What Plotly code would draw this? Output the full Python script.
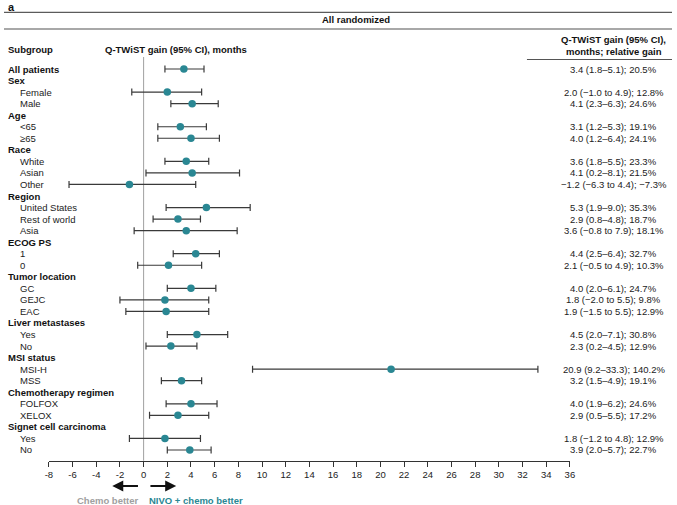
import plotly.graph_objects as go

W, H = 677, 505

# ---- data ----
rows = [
    ("All patients", "bold"), ("Sex", "head"), ("Female", "item"), ("Male", "item"),
    ("Age", "head"), ("<65", "item"), ("≥65", "item"),
    ("Race", "head"), ("White", "item"), ("Asian", "item"), ("Other", "item"),
    ("Region", "head"), ("United States", "item"), ("Rest of world", "item"), ("Asia", "item"),
    ("ECOG PS", "head"), ("1", "item"), ("0", "item"),
    ("Tumor location", "head"), ("GC", "item"), ("GEJC", "item"), ("EAC", "item"),
    ("Liver metastases", "head"), ("Yes", "item"), ("No", "item"),
    ("MSI status", "head"), ("MSI-H", "item"), ("MSS", "item"),
    ("Chemotherapy regimen", "head"), ("FOLFOX", "item"), ("XELOX", "item"),
    ("Signet cell carcinoma", "head"), ("Yes", "item"), ("No", "item"),
]
# estimates for rows that have data (None for section headers)
gain = [3.4, None, 2.0, 4.1, None, 3.1, 4.0, None, 3.6, 4.1, -1.2, None, 5.3, 2.9, 3.6,
        None, 4.4, 2.1, None, 4.0, 1.8, 1.9, None, 4.5, 2.3, None, 20.9, 3.2, None, 4.0, 2.9,
        None, 1.8, 3.9]
lo = [1.8, None, -1.0, 2.3, None, 1.2, 1.2, None, 1.8, 0.2, -6.3, None, 1.9, 0.8, -0.8,
      None, 2.5, -0.5, None, 2.0, -2.0, -1.5, None, 2.0, 0.2, None, 9.2, 1.5, None, 1.9, 0.5,
      None, -1.2, 2.0]
hi = [5.1, None, 4.9, 6.3, None, 5.3, 6.4, None, 5.5, 8.1, 4.4, None, 9.0, 4.8, 7.9,
      None, 6.4, 4.9, None, 6.1, 5.5, 5.5, None, 7.1, 4.5, None, 33.3, 4.9, None, 6.2, 5.5,
      None, 4.8, 5.7]
rel = ["20.5%", None, "12.8%", "24.6%", None, "19.1%", "24.1%", None, "23.3%", "21.5%", "−7.3%",
       None, "35.3%", "18.7%", "18.1%", None, "32.7%", "10.3%", None, "24.7%", "9.8%", "12.9%",
       None, "30.8%", "12.9%", None, "140.2%", "19.1%", None, "24.6%", "17.2%", None, "12.9%", "22.7%"]
tick_vals = list(range(-8, 37, 2))
tick_text = [str(v) for v in tick_vals]

# ---- geometry helpers (pixel -> paper) ----
def xp(px):
    return px / W

def yp(py):
    return 1 - py / H

ROW0, ROWSTEP = 69.0, 11.545
def row_of(py):
    return (py - ROW0) / ROWSTEP

FONT = "Liberation Sans, Arial, sans-serif"
FS = 9.5
TEAL = "#2a8793"
BAR = "#3a3a3a"

def fmt(v):
    s = f"{abs(v):.1f}"
    return ("−" + s) if v < 0 else s

def ci_text(g, l, h, r):
    if l < 0 or h < 0:
        return f"{fmt(g)} ({fmt(l)} to {fmt(h)}); {r}"
    return f"{fmt(g)} ({fmt(l)}–{fmt(h)}); {r}"

idx = [i for i, g in enumerate(gain) if g is not None]
xs = [gain[i] for i in idx]
plus = [hi[i] - gain[i] for i in idx]
minus = [gain[i] - lo[i] for i in idx]

fig = go.Figure()
fig.add_trace(go.Scatter(
    x=xs, y=idx, mode="markers",
    marker=dict(color=TEAL, size=7.5, line=dict(width=0)),
    error_x=dict(type="data", symmetric=False, array=plus, arrayminus=minus,
                 color=BAR, thickness=1.2, width=3.5),
    hoverinfo="skip", showlegend=False, cliponaxis=False,
))

ann = []
# row labels
for i, (lab, kind) in enumerate(rows):
    if kind == "item":
        ann.append(dict(x=xp(14), y=i, xref="paper", yref="y", text=lab, showarrow=False,
                        xanchor="left", yanchor="middle", font=dict(size=FS, color="#222")))
    else:
        ann.append(dict(x=xp(2.5), y=i, xref="paper", yref="y", text=f"<b>{lab}</b>", showarrow=False,
                        xanchor="left", yanchor="middle", font=dict(size=FS, color="#111")))
# right text
for i in idx:
    ann.append(dict(x=xp(618), y=i, xref="paper", yref="y", text=ci_text(gain[i], lo[i], hi[i], rel[i]),
                    showarrow=False, xanchor="center", yanchor="middle",
                    font=dict(size=FS, color="#222")))

# headers
ann += [
    dict(x=xp(2), y=yp(7), xref="paper", yref="paper", text="<b>a</b>", showarrow=False,
         xanchor="left", yanchor="middle", font=dict(size=11, color="#111")),
    dict(x=xp(357), y=yp(19.5), xref="paper", yref="paper", text="<b>All randomized</b>", showarrow=False,
         xanchor="center", yanchor="middle", font=dict(size=FS, color="#111")),
    dict(x=xp(2.5), y=yp(49.5), xref="paper", yref="paper", text="<b>Subgroup</b>", showarrow=False,
         xanchor="left", yanchor="middle", font=dict(size=FS, color="#111")),
    dict(x=xp(100), y=yp(49.5), xref="paper", yref="paper", text="<b>Q-TWiST gain (95% CI), months</b>",
         showarrow=False, xanchor="left", yanchor="middle", font=dict(size=FS, color="#111")),
    dict(x=xp(618), y=yp(40), xref="paper", yref="paper", text="<b>Q-TWiST gain (95% CI),</b>",
         showarrow=False, xanchor="center", yanchor="middle", font=dict(size=FS, color="#111")),
    dict(x=xp(618), y=yp(51.5), xref="paper", yref="paper", text="<b>months; relative gain</b>",
         showarrow=False, xanchor="center", yanchor="middle", font=dict(size=FS, color="#111")),
    dict(x=xp(105), y=yp(500), xref="paper", yref="paper", text="<b>Chemo better</b>",
         showarrow=False, xanchor="center", yanchor="middle", font=dict(size=FS, color="#a0a0a0")),
    dict(x=xp(195), y=yp(500), xref="paper", yref="paper", text="<b>NIVO + chemo better</b>",
         showarrow=False, xanchor="center", yanchor="middle", font=dict(size=FS, color=TEAL)),
]
# arrows
arr_y = row_of(486)
ann += [
    dict(x=-2.65, y=arr_y, ax=-0.35, ay=arr_y, xref="x", yref="y", axref="x", ayref="y", text="",
         showarrow=True, arrowhead=2, arrowsize=1, arrowwidth=2.2, arrowcolor="#111"),
    dict(x=2.75, y=arr_y, ax=0.45, ay=arr_y, xref="x", yref="y", axref="x", ayref="y", text="",
         showarrow=True, arrowhead=2, arrowsize=1, arrowwidth=2.2, arrowcolor="#111"),
]

shapes = [
    dict(type="line", xref="paper", yref="paper", x0=0, x1=1, y0=yp(12.3), y1=yp(12.3),
         line=dict(color="#333", width=1)),
    dict(type="line", xref="paper", yref="paper", x0=0, x1=1, y0=yp(29), y1=yp(29),
         line=dict(color="#a8a8a8", width=2)),
    dict(type="line", xref="paper", yref="paper", x0=xp(530), x1=1, y0=yp(59.5), y1=yp(59.5),
         line=dict(color="#555", width=1)),
    dict(type="line", xref="x", yref="paper", x0=0, x1=0, y0=yp(57), y1=yp(460.7),
         line=dict(color="#a0a0a0", width=1), layer="below"),
]

fig.update_layout(
    width=W, height=H, autosize=False,
    margin=dict(l=0, r=0, t=0, b=0),
    paper_bgcolor="white", plot_bgcolor="white",
    font=dict(family=FONT, size=FS, color="#222"),
    xaxis=dict(domain=[xp(45.5), xp(573.5)], range=[-8, 36], anchor="free", position=yp(460.7),
               showline=True, linecolor="#333", linewidth=1, ticks="outside", ticklen=5,
               tickcolor="#333", tickwidth=1, tickvals=tick_vals, ticktext=tick_text,
               showgrid=False, zeroline=False, tickfont=dict(size=FS, color="#222"), fixedrange=True),
    yaxis=dict(domain=[0, 1], range=[row_of(H), row_of(0)], visible=False, fixedrange=True),
    annotations=ann, shapes=shapes,
)

fig.write_html("out.html", config={"displayModeBar": False},
               post_script="document.body.style.margin='0';document.body.style.overflow='hidden';")
